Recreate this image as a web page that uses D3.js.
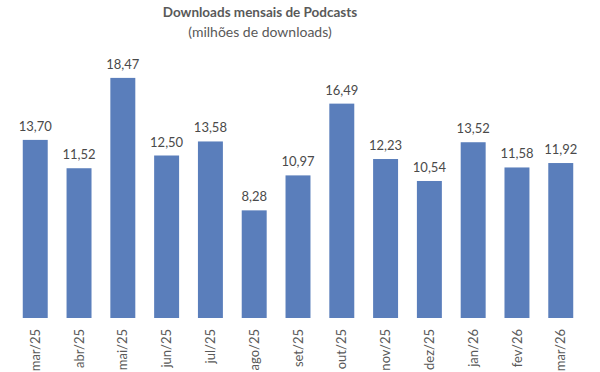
<!DOCTYPE html>
<html>
<head>
<meta charset="utf-8">
<script src="https://cdn.jsdelivr.net/npm/d3@7"></script>
<style>
  body { margin: 0; background: #fff; }
  svg { display: block; font-family: Lato, "Open Sans", sans-serif; }
</style>
</head>
<body>
<svg id="chart" width="600" height="372"></svg>
<script>
const months = ["mar/25", "abr/25", "mai/25", "jun/25", "jul/25", "ago/25", "set/25",
  "out/25", "nov/25", "dez/25", "jan/26", "fev/26", "mar/26"];
const downloads = [13.70, 11.52, 18.47, 12.50, 13.58, 8.28, 10.97, 16.49, 12.23, 10.54, 13.52, 11.58, 11.92];
const titleText = "Downloads mensais de Podcasts";
const subtitleText = "(milhões de downloads)";

const data = months.map((m, i) => ({ month: m, value: downloads[i] }));

const svg = d3.select("#chart");
const width = 600, height = 372;

const margin = { top: 58, right: 18, bottom: 54, left: 14 };
const baseline = height - margin.bottom;

const fmt = (v) => d3.format(".2f")(v).replace(".", ",");

const xScale = d3
  .scaleBand()
  .domain(months)
  .range([margin.left, width - margin.right])
  .paddingInner(0.43)
  .paddingOuter(0.2);

const yScale = d3.scaleLinear().domain([0, 20]).range([baseline, margin.top]);

// title
svg.append("text")
  .attr("x", 260)
  .attr("y", 17)
  .attr("text-anchor", "middle")
  .attr("font-size", 13.5)
  .attr("font-weight", "bold")
  .attr("fill", "#595959")
  .text(titleText);

svg.append("text")
  .attr("x", 260)
  .attr("y", 37)
  .attr("text-anchor", "middle")
  .attr("font-size", 14)
  .attr("fill", "#595959")
  .text(subtitleText);

const g = svg.append("g");

g.selectAll("rect")
  .data(data)
  .join("rect")
  .attr("x", (d) => xScale(d.month))
  .attr("y", (d) => yScale(d.value))
  .attr("width", xScale.bandwidth())
  .attr("height", (d) => baseline - yScale(d.value))
  .attr("fill", "#5a7ebb");

g.selectAll("text.val")
  .data(data)
  .join("text")
  .attr("class", "val")
  .attr("x", (d) => xScale(d.month) + xScale.bandwidth() / 2)
  .attr("y", (d) => yScale(d.value) - 9)
  .attr("text-anchor", "middle")
  .attr("font-size", 13)
  .attr("fill", "#4a4a4a")
  .text((d) => fmt(d.value));

const xAxis = svg.append("g")
  .attr("transform", `translate(0,${baseline})`)
  .call(d3.axisBottom(xScale).tickSize(0).tickPadding(0));

xAxis.select(".domain").remove();
xAxis.selectAll("text")
  .attr("font-family", "Lato, 'Open Sans', sans-serif")
  .attr("font-size", 13)
  .attr("fill", "#595959")
  .attr("text-anchor", "end")
  .attr("dy", "0.35em")
  .attr("transform", "translate(0,11) rotate(-90)");
</script>
</body>
</html>
